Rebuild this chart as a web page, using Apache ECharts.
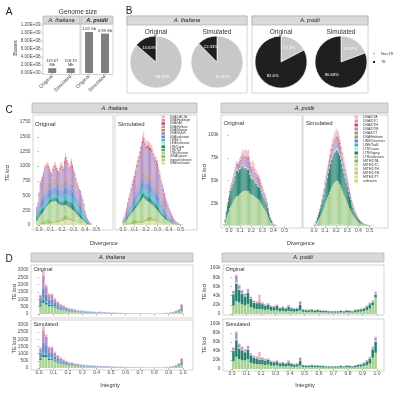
<!DOCTYPE html>
<html><head><meta charset="utf-8">
<script src="https://cdn.jsdelivr.net/npm/echarts@6/dist/echarts.min.js"></script>
<style>html,body{margin:0;padding:0;background:#fff}#c{width:400px;height:398px}</style>
</head><body><div id="c"></div>
<script>
const FONT = '"Liberation Sans", Arial, Helvetica, sans-serif';

// ---------- Panel A : genome size ----------
const genomeCats = ['Original', 'Simulated'];
const genomeThaliana = [119.67e6, 118.19e6];
const genomePsidii = [1.02e9, 0.98e9];
const genomeLabelsThaliana = ['119.67\nMb', '118.19\nMb'];
const genomeLabelsPsidii = ['1.02 Gb', '0.98 Gb'];

// ---------- Panel B : TE proportion (%) ----------
const pieNames = ['Non-TE', 'TE'];
const pieThalOrig = [86.37, 13.63];
const pieThalSim = [87.67, 12.33];
const piePsiOrig = [17.4, 82.6];
const piePsiSim = [19.32, 80.68];

// ---------- Panel C : divergence histograms (bin width 0.01) ----------
const divBins = Array.from({length: 56}, (_, i) => +(i * 0.01).toFixed(2));
const divTicks = [0.0, 0.1, 0.2, 0.3, 0.4, 0.5];

// A. thaliana original (TE loci)
const thalOrigSINE = [5,8,10,12,12,14,15,16,18,20,20,22,25,28,30,35,40,45,50,55,60,65,70,75,85,95,90,85,80,80,75,70,65,60,50,45,40,35,30,25,20,15,10,8,5,4,3,2];
const thalOrigRDNA = [5,8,10,15,20,25,35,50,70,85,80,60,40,30,25,25,25,25,25,30,35,40,50,60,75,80,70,55,40,30,25,20,18,15,12,10,8,6,5,4,3,2,2,1,1,0,0,0];
const thalOrigLTRunk = [60,79,110,133,153,171,190,204,212,225,250,288,320,337,345,345,345,330,305,275,250,230,210,195,180,170,175,180,185,180,175,170,162,150,138,125,112,99,85,71,62,48,38,26,16,11,7,3];
const thalOrigCopia = [90,100,90,80,70,60,55,50,50,50,50,50,50,50,50,55,55,60,60,60,60,60,65,70,75,80,85,90,95,100,100,95,90,85,80,70,65,60,55,50,45,40,30,25,20,15,10,5];
const thalOrigL1 = [30,35,40,45,45,50,50,55,55,55,55,55,55,60,60,60,65,65,70,70,70,75,80,80,85,90,90,90,95,100,105,105,100,100,95,90,85,80,75,70,60,50,40,30,20,15,10,5];
const thalOrigDNAunk = [40,50,70,90,100,110,120,130,130,130,125,115,105,100,110,115,120,115,110,110,115,120,115,110,120,125,120,115,105,110,115,105,95,90,85,80,75,70,70,60,55,45,35,25,18,12,8,5];
const thalOrigMuDR = [20,30,50,70,80,90,100,110,115,120,115,105,95,90,100,110,115,110,100,100,110,115,110,105,115,120,115,110,100,105,110,100,90,85,80,75,70,65,60,55,50,40,30,22,15,10,6,3];
const thalOrigMariner = [5,8,10,15,18,20,22,25,25,25,25,25,25,25,25,25,25,25,25,25,25,25,25,25,25,25,25,25,22,22,20,18,15,12,10,10,8,8,6,5,4,3,2,2,1,1,0,0];
const thalOrigHelitron = [35,50,140,230,242,253,283,315,305,292,257,210,155,120,177,205,205,172,150,145,222,265,245,202,295,345,308,275,225,248,328,292,262,248,220,185,177,161,171,143,129,104,54,22,12,12,8,5];
const thalOrighAT = [10,12,15,20,20,22,25,25,25,28,28,25,25,25,28,30,30,28,25,25,28,30,30,28,30,35,32,30,28,30,32,30,28,25,22,20,18,16,15,12,10,8,6,4,3,2,1,1];
const thalOrigCACTA = [10,15,20,25,30,30,35,35,40,40,40,35,35,35,40,40,45,40,40,35,40,45,45,40,45,50,45,45,40,40,45,40,35,30,28,25,22,20,18,15,12,10,8,5,4,3,2,1];

// A. thaliana simulated (TE loci)
const thalSimSINE = [3,4,5,6,8,10,12,14,16,18,20,22,25,28,32,36,40,45,50,55,60,65,70,72,75,75,72,70,65,60,55,50,45,40,35,30,25,22,18,15,12,10,8,6,5,4,3,2,2,1,1,0,0];
const thalSimRDNA = [2,3,5,8,12,18,25,35,50,65,75,70,55,40,30,28,28,30,35,40,45,55,65,70,72,65,55,45,35,28,22,18,15,12,10,8,6,5,4,3,2,2,1,1,1,0,0,0,0,0,0,0,0];
const thalSimLTRunk = [25,38,55,76,95,112,128,141,149,157,170,198,235,272,308,336,362,385,385,345,315,290,265,243,223,210,203,195,190,182,173,157,140,123,110,97,84,73,63,54,46,38,31,25,19,14,11,8,5,4,2,2,1];
const thalSimCopia = [15,20,25,30,35,40,42,45,48,50,52,55,58,60,62,65,68,70,72,70,70,72,75,78,80,80,80,78,75,72,70,65,60,55,50,45,40,35,30,26,22,18,15,12,10,8,6,5,4,3,2,1,1];
const thalSimL1 = [10,12,15,20,25,30,35,40,45,50,55,60,65,70,75,80,85,90,95,90,90,95,100,100,100,100,95,90,85,80,75,70,62,55,50,45,40,35,30,25,20,17,14,11,9,7,5,4,3,2,1,1,0];
const thalSimDNAunk = [10,15,20,28,35,42,50,58,65,72,78,85,92,100,105,110,118,125,130,122,118,120,120,118,118,115,110,105,100,96,92,84,75,66,60,54,46,40,35,30,25,21,17,13,10,8,6,4,3,2,1,1,1];
const thalSimMuDR = [8,12,18,24,30,38,45,52,60,66,72,80,88,95,100,108,115,122,128,120,115,118,116,114,113,110,104,100,95,93,88,80,72,64,58,52,45,38,34,29,24,20,16,13,10,7,6,4,3,2,1,1,0];
const thalSimMariner = [2,3,5,7,9,11,13,15,17,19,20,22,24,26,28,30,32,34,35,33,32,32,32,31,31,30,29,27,26,25,24,22,20,18,16,14,12,10,9,8,6,5,4,3,3,2,2,1,1,1,0,0,0];
const thalSimHelitron = [12,26,48,71,104,134,158,190,222,248,266,298,340,374,398,419,445,483,508,472,448,464,458,448,454,454,427,410,404,412,404,366,332,297,268,248,213,180,160,138,117,97,77,62,42,32,25,17,11,7,5,3,1];
const thalSimhAT = [5,7,10,12,15,18,20,23,26,28,30,33,36,38,40,42,45,48,50,47,45,46,46,45,44,43,41,39,37,36,34,31,28,25,22,20,17,15,13,11,9,8,6,5,4,3,2,2,1,1,1,0,0];
const thalSimCACTA = [8,10,14,18,22,27,32,37,42,47,52,57,62,67,72,76,82,88,92,86,82,83,83,81,80,78,74,71,68,66,63,57,51,45,41,37,32,27,24,21,17,14,11,9,7,5,4,3,2,2,1,1,1];

// A. psidii original (thousand TE loci)
const psiOrigMITEDTT = [0.1,0.2,0.3,0.4,0.5,0.6,0.7,0.8,0.9,1,1,1.1,1.1,1.2,1.2,1.3,1.3,1.4,1.4,1.4,1.5,1.5,1.5,1.4,1.4,1.3,1.3,1.2,1.2,1.1,1.1,1,1,0.9,0.8,0.7,0.6,0.5,0.5,0.4,0.3,0.2,0.2,0.1,0.1,0,0,0];
const psiOrigLTRunk = [1,4,8,12,15,19,21,23,26,28,30,32,32,32,34,35,36,37,37,37,38,37,37,35,34,33,33,32,31,30,29,28,27,25,23,21,19,17,15,12,9,6,4,3,1.5,1,0.6,0.3];
const psiOrigGypsy = [0.8,3,7,10,12,15,17,18,19,21,24,28,28,26,27,27,28,28,25,25,24,23,23,20,18,17,18,17,15,15,14,14,14,13,12,11,10,10,9,8,6,4,3,2.5,1.2,0.7,0.4,0.2];
const psiOrigCopia = [0.1,0.3,0.5,0.7,0.8,1,1,1.1,1.2,1.2,1.3,1.3,1.3,1.3,1.4,1.4,1.5,1.5,1.5,1.5,1.5,1.5,1.5,1.4,1.4,1.3,1.3,1.3,1.2,1.2,1.1,1.1,1,1,0.9,0.8,0.7,0.7,0.6,0.5,0.4,0.3,0.2,0.2,0.1,0.1,0,0];
const psiOrigDTM = [0.1,0.4,1,1.5,2,2.5,3,3.5,4,4.5,5,5,5,5.5,6,7,8,9,9.5,10,10.5,10.5,11,10,9,9,10,9.5,8.5,8,7.5,7,7,6.5,6,5.5,5,4.5,4,3.5,2.8,2,1.5,1.2,0.6,0.4,0.3,0.1];
const psiOrigDTH = [0,0.1,0.2,0.3,0.4,0.5,0.6,0.7,0.8,0.9,1,1.1,1.1,1.1,1.2,1.2,1.3,1.4,1.4,1.4,1.5,1.5,1.5,1.4,1.3,1.3,1.4,1.4,1.3,1.3,1.3,1.3,1.3,1.2,1.2,1.1,1,1,0.9,0.8,0.6,0.4,0.3,0.2,0.1,0.1,0,0];
const psiOrigDTA = [0,0.2,0.4,0.6,0.8,1.2,1.4,1.6,2,2.2,2.5,2.5,2.5,2.8,3.5,4,5,6,6.5,7,7.5,7.5,8,7.5,6.5,6,7,6.5,5.5,5,4.5,4.2,4,3.6,3.2,2.8,2.4,2.2,1.8,1.4,1,0.7,0.5,0.4,0.2,0.1,0.1,0];

// A. psidii simulated (thousand TE loci)
const psiSimMITEDTT = [0.05,0.1,0.15,0.2,0.3,0.4,0.5,0.6,0.7,0.8,0.9,1,1.1,1.2,1.3,1.4,1.5,1.5,1.6,1.6,1.6,1.6,1.6,1.5,1.5,1.4,1.3,1.2,1.1,1,0.9,0.8,0.7,0.6,0.5,0.4,0.35,0.3,0.25,0.2,0.15,0.1,0.1,0.08,0.06,0.05,0.04,0.03,0.02,0.02,0.01,0.01,0,0,0];
const psiSimLTRunk = [0.5,1.5,3,5,7,9,11,14,17,20,24,27,30,33,36,39,42,44,46,47,48,48,47,45,43,40,37,34,31,28,25,22,19,17,14,12,10,8.5,7,5.5,4.5,3.5,2.8,2.2,1.8,1.4,1.1,0.9,0.7,0.5,0.4,0.3,0.2,0.15,0.1];
const psiSimGypsy = [0.3,1,2,3.5,5,6.5,8,10,12,14,17,20,22,24,26,28,29,31,32,33,34,33,32,31,29,27,25,23,21,19,17,15,13,11,9.5,8,6.5,5.5,4.5,3.5,3,2.3,1.7,1.3,1,0.8,0.6,0.5,0.4,0.3,0.2,0.15,0.1,0.08,0.05];
const psiSimCopia = [0.05,0.1,0.2,0.3,0.4,0.5,0.6,0.8,1,1.1,1.3,1.5,1.6,1.8,1.9,2,2.1,2.2,2.3,2.3,2.4,2.4,2.3,2.2,2.1,2,1.9,1.7,1.6,1.4,1.3,1.1,1,0.9,0.8,0.7,0.6,0.5,0.4,0.35,0.3,0.25,0.2,0.15,0.12,0.1,0.08,0.06,0.05,0.04,0.03,0.02,0.02,0.01,0.01];
const psiSimDTM = [0.05,0.2,0.4,0.7,1,1.3,1.7,2.2,2.7,3.3,4,4.8,5.5,6.2,7,7.8,8.6,9.3,10,10.6,11,11,10.8,10.4,9.8,9.2,8.6,7.9,7.1,6.4,5.6,4.9,4.3,3.7,3.2,2.8,2.3,1.9,1.6,1.3,1,0.8,0.6,0.5,0.4,0.3,0.25,0.2,0.15,0.12,0.09,0.07,0.05,0.04,0.03];
const psiSimDTH = [0,0.05,0.1,0.15,0.2,0.3,0.35,0.45,0.55,0.65,0.75,0.9,1,1.1,1.2,1.3,1.4,1.5,1.6,1.7,1.7,1.7,1.6,1.6,1.5,1.4,1.3,1.2,1.1,1,0.9,0.8,0.7,0.6,0.5,0.45,0.4,0.35,0.3,0.25,0.2,0.15,0.12,0.1,0.08,0.06,0.05,0.04,0.03,0.02,0.02,0.01,0.01,0,0];
const psiSimDTA = [0.05,0.15,0.3,0.5,0.7,0.9,1.2,1.5,1.9,2.3,2.8,3.3,3.8,4.3,4.8,5.4,6,6.6,7.2,7.7,8,8,7.8,7.4,7,6.5,6,5.4,4.9,4.4,3.9,3.4,2.9,2.5,2.1,1.8,1.5,1.3,1.1,0.9,0.7,0.6,0.5,0.4,0.3,0.25,0.2,0.15,0.12,0.1,0.08,0.06,0.05,0.04,0.03];

// ---------- Panel D : integrity histograms (bin width 0.02) ----------
const intBins = Array.from({length: 50}, (_, i) => +(0.01 + i * 0.02).toFixed(2));
const intTicks = [0.0, 0.1, 0.2, 0.3, 0.4, 0.5, 0.6, 0.7, 0.8, 0.9, 1.0];

const dThalOrigLTRunk = [520,760,640,520,540,430,350,290,250,200,170,150,135,115,100,95,85,80,70,65,60,65,55,50,45,40,40,38,34,32,30,28,26,26,24,22,22,20,20,18,20,22,24,28,34,45,60,85,120,220];
const dThalOrigCopia = [110,180,130,100,90,70,55,45,38,30,25,22,20,17,15,14,12,11,10,9,8,10,8,7,6,6,5,5,5,4,4,4,3,3,3,3,3,3,3,2,3,3,3,4,4,6,8,12,20,70];
const dThalOrigL1 = [60,120,90,60,60,45,35,28,24,20,17,15,13,11,10,9,8,8,7,7,6,7,6,5,5,4,4,4,3,3,3,3,3,3,2,2,2,2,2,2,2,2,2,3,3,4,6,9,14,40];
const dThalOrigDNAunk = [320,700,450,300,290,220,170,130,110,85,70,62,55,46,40,38,33,30,27,25,23,26,20,18,16,15,14,13,12,11,10,9,8,8,7,7,7,6,6,6,6,7,8,9,11,15,20,30,45,100];
const dThalOrigHelitron = [260,860,530,340,320,240,190,157,126,110,88,83,72,59,55,55,45,45,41,40,40,47,29,29,28,26,23,22,19,18,17,15,14,14,14,11,11,10,10,8,10,11,13,15,21,30,42,64,101,180];
const dThalOrigCACTA = [80,280,160,100,100,75,60,50,42,35,30,28,25,22,20,19,17,16,15,14,13,15,12,11,10,9,9,8,7,7,6,6,6,6,5,5,5,4,4,4,4,5,5,6,7,10,14,20,30,70];

const dThalSimLTRunk = [560,760,750,550,570,460,370,305,260,210,180,160,140,120,110,100,92,85,76,72,68,64,60,62,52,46,42,40,38,34,32,30,28,26,26,24,22,22,20,20,20,20,22,24,30,42,58,82,122,225];
const dThalSimCopia = [120,180,150,105,95,75,58,48,40,32,27,24,21,18,16,15,13,12,11,10,9,9,8,9,7,6,6,5,5,5,4,4,4,4,4,3,3,3,3,3,3,3,3,3,4,6,8,12,20,72];
const dThalSimL1 = [65,120,105,65,62,48,37,30,25,21,18,16,14,12,11,10,9,8,8,7,7,6,6,6,5,5,4,4,4,3,3,3,3,3,3,2,2,2,2,2,2,2,2,2,3,4,6,9,14,42];
const dThalSimDNAunk = [340,700,530,320,310,235,180,140,115,90,75,68,58,50,44,40,36,32,29,27,25,24,22,24,19,17,16,15,14,12,11,10,10,9,9,8,7,7,7,7,7,7,8,8,11,15,20,30,45,105];
const dThalSimHelitron = [280,860,625,355,358,252,193,165,136,111,89,83,71,67,58,55,52,46,40,39,37,34,32,36,26,26,23,22,21,19,18,17,14,13,13,13,11,11,9,9,9,9,10,13,15,23,34,57,99,184];
const dThalSimCACTA = [85,280,190,105,105,80,62,52,44,36,31,29,26,23,21,20,18,17,16,15,14,13,12,13,11,10,9,9,8,7,7,6,6,5,5,5,5,5,4,4,4,4,5,5,7,10,14,20,30,72];

// thousand TE loci
const dPsiOrigLTRunk = [18,28,25,21,19,22,15,12,11,11,10,9,10,7.5,7.5,8.5,6,7,5.5,7,6,5.5,6,8,5,4.5,4.5,5,4,4.5,4,3.5,3.5,3.2,3.2,3.2,3.2,3.6,3.2,4,3.5,3.2,4.5,5,5.5,6.5,9,12,19,36];
const dPsiOrigGypsy = [25,38,27.5,22.5,19.2,24.5,17.5,12.8,12.4,12.8,11.5,9.1,10.1,7.9,7.5,8.9,6.3,7.2,6,8.5,6.3,5.3,5.6,12.2,4.2,3.7,3.7,4.2,3.5,4,3.5,3.2,3.2,2.6,2.6,2.6,2.6,3.1,2.6,3.5,3.2,2.6,3.9,4.2,4.6,5.3,7.1,9.2,6.3,6.5];
const dPsiOrigCopia = [2,3,2.5,2,1.8,2,1.5,1.2,1.1,1.2,1,0.9,0.9,0.8,0.7,0.8,0.6,0.7,0.6,0.7,0.6,0.5,0.6,0.8,0.4,0.4,0.4,0.4,0.4,0.4,0.4,0.3,0.3,0.3,0.3,0.3,0.3,0.3,0.3,0.4,0.3,0.3,0.4,0.4,0.5,0.5,0.7,1,1.2,2];
const dPsiOrigDTM = [5,14,7,5,4,5,3,3,2.5,3,2.5,2,2,2,1.5,2,1.5,1.5,1.3,3,1.5,1.2,1.3,6,1,1,1,1,0.8,0.8,0.8,0.7,0.7,0.6,0.6,0.6,0.6,0.7,0.6,0.8,0.7,0.6,0.9,1,1,1.2,1.6,2,2.5,3];
const dPsiOrigDTA = [1,3,2,1.5,1,1.5,1,1,1,14,1,1,1,0.8,0.8,0.8,0.6,0.6,0.6,0.8,0.6,0.5,0.5,1,0.4,0.4,0.4,0.4,0.3,0.3,0.3,0.3,0.3,0.3,0.3,0.3,0.3,0.3,0.3,0.3,0.3,0.3,0.3,0.4,0.4,0.5,0.6,0.8,1,1.5];

const dPsiSimLTRunk = [17,27,22,20,19,22,14,12,11,11,10,9,10,7.5,7.5,8,6,6.5,5.5,7,5.5,5,5.5,7.5,4.5,4,4,4.5,4,4,3.5,3.5,3.2,3.2,3.2,3.2,3.2,3.6,3.2,4,3.5,3.2,4,5,5.5,7,9,12,25,36];
const dPsiSimGypsy = [23,37,23.5,21.5,18.2,21.5,16.5,12.8,12.4,9.8,11.5,10.1,10.1,7.9,7.5,8.4,6.3,6.7,6,7.5,5.8,4.8,5.1,10.7,3.7,3.2,3.2,3.7,3.5,3.5,3,3.2,2.5,2.6,2.6,2.6,2.6,3.1,2.6,3.5,3.2,2.6,3.4,4.2,4.6,5.8,8.1,11.2,18.5,25];
const dPsiSimCopia = [2,3,2.5,2,1.8,2,1.5,1.2,1.1,1.2,1,0.9,0.9,0.8,0.7,0.8,0.6,0.7,0.6,0.7,0.6,0.5,0.6,0.8,0.4,0.4,0.4,0.4,0.4,0.4,0.4,0.3,0.3,0.3,0.3,0.3,0.3,0.3,0.3,0.4,0.3,0.3,0.4,0.4,0.5,0.5,0.7,1,1.5,3];
const dPsiSimDTM = [5,14,7,5,4,5,3,3,2.5,3,2.5,2,2,2,1.5,2,1.5,1.5,1.3,3,1.5,1.2,1.3,6,1,1,1,1,0.8,0.8,0.8,0.7,0.7,0.6,0.6,0.6,0.6,0.7,0.6,0.8,0.7,0.6,0.9,1,1,1.2,1.6,2,3.5,5];
const dPsiSimDTA = [1,3,2,1.5,1,1.5,1,1,1,13,1,1,1,0.8,0.8,0.8,0.6,0.6,0.6,0.8,0.6,0.5,0.5,1,0.4,0.4,0.4,0.4,0.3,0.3,0.3,0.3,0.3,0.3,0.3,0.3,0.3,0.3,0.3,0.3,0.3,0.3,0.3,0.4,0.4,0.5,0.6,0.8,1.5,3];

// ---------- legends / colours ----------
const thalLegend = ['DNA/CACTA','DNA/Harbinger','DNA/hAT','DNA/Helitron','DNA/Mariner','DNA/MuDR','DNA/unknown','LINE/L1','LINE/unknown','LTR/Copia','LTR/Ty3','LTR/unknown','rDNA/spacer','repeat/unknown','SINE/unknown'];
const psiLegend = ['DNA/DTA','DNA/DTC','DNA/DTH','DNA/DTM','DNA/DTT','DNA/Helitron','LINE/Deceiver','LINE/Tad1','LTR/Copia','LTR/Gypsy','LTR/unknown','MITE/DTA','MITE/DTC','MITE/DTH','MITE/DTM','MITE/DTT','unknown'];
const TC = {'DNA/CACTA':'#f1b7c0','DNA/Harbinger':'#e48d9c','DNA/hAT':'#c84c5e','DNA/Helitron':'#b58fc4','DNA/Mariner':'#c98c3f','DNA/MuDR':'#9c8bc8','DNA/unknown':'#6689c9','LINE/L1':'#40b2ca','LINE/unknown':'#b3e1e4','LTR/Copia':'#25806e','LTR/Ty3':'#5aa85c','LTR/unknown':'#acd394','rDNA/spacer':'#8fbe45','repeat/unknown':'#cbc185','SINE/unknown':'#ded6a6'};
const PC = {'DNA/DTA':'#f1b7c0','DNA/DTC':'#e48d9c','DNA/DTH':'#c84c5e','DNA/DTM':'#b58fc4','DNA/DTT':'#c98c3f','DNA/Helitron':'#9c8bc8','LINE/Deceiver':'#6689c9','LINE/Tad1':'#40b2ca','LTR/Copia':'#b3e1e4','LTR/Gypsy':'#25806e','LTR/unknown':'#a7d091','MITE/DTA':'#86bb4c','MITE/DTC':'#c2dca2','MITE/DTH':'#cbd3a6','MITE/DTM':'#cbc185','MITE/DTT':'#ded6a6','unknown':'#e2d43e'};

// ---------- helpers ----------
const fmtE = v => { if (v === 0) return '0.00E+00'; const e = Math.floor(Math.log10(v) + 1e-9); return (v / Math.pow(10, e)).toFixed(2) + 'E+' + String(e).padStart(2, '0'); };
const LBL = {fontSize: 5, color: '#4d4d4d', fontFamily: FONT};
const YLBL = {fontSize: 4.8, color: '#4d4d4d', fontFamily: FONT};
const TICK = {show: true, length: 1.5, lineStyle: {color: '#666', width: 0.5}};
function valX(gi, min, max, ticks, labels) {
  return {gridIndex: gi, type: 'value', min, max, axisLine: {show: false}, splitLine: {show: false},
    axisTick: Object.assign({customValues: ticks}, TICK),
    axisLabel: Object.assign({show: labels, customValues: ticks, margin: 2.5, formatter: v => v.toFixed(1)}, LBL)};
}
function valY(gi, max, interval, labels, fmt, showMin) {
  return {gridIndex: gi, type: 'value', min: 0, max, interval, axisLine: {show: false}, splitLine: {show: false},
    axisTick: Object.assign({}, TICK, {show: labels}), axisLabel: Object.assign({show: labels, showMaxLabel: false, showMinLabel: showMin, margin: 2.5, formatter: fmt}, YLBL)};
}
// data stored as [count, bin] so that the count dimension is the one that stacks
function layers(gi, bins, list, colors, bw) {
  return list.map(([name, data]) => ({type: 'bar', name, xAxisIndex: gi, yAxisIndex: gi, stack: 'g' + gi, barWidth: bw,
    encode: {x: 1, y: 0}, data: data.map((v, i) => [v, bins[i]]), itemStyle: {color: colors[name]}, silent: true, animation: false}));
}
function empty(gi, names, colors) {
  return names.map(name => ({type: 'bar', name, xAxisIndex: gi, yAxisIndex: gi, data: [], itemStyle: {color: colors[name]}}));
}
function pie(cx, vals) {
  return {type: 'pie', center: [cx, 62], radius: 26, startAngle: 90, clockwise: true, silent: true, animation: false,
    data: pieNames.map((n, i) => ({name: n, value: vals[i]})), itemStyle: {borderColor: '#fff', borderWidth: 0.6},
    label: {show: true, position: 'inside', formatter: p => p.value + '%', fontSize: 4.2, color: '#fff', fontFamily: FONT}, labelLine: {show: false}};
}
function T(text, x, y, size, o = {}) {
  const a = o.align || 'center';
  return {type: 'text', x, y, rotation: o.rot || 0, z: 120, silent: true,
    style: {text, x: 0, y: 0, font: (o.style || 'normal') + ' ' + (o.weight || 'normal') + ' ' + size + 'px ' + FONT, fill: o.fill || '#1a1a1a',
      align: a, textAlign: a, verticalAlign: 'middle', textVerticalAlign: 'middle'}};
}
function R(x, y, w, h, fill, stroke, z) {
  return {type: 'rect', z: z, silent: true, shape: {x, y, width: w, height: h}, style: {fill, stroke, lineWidth: 0.6}};
}
const NOFILL = 'rgba(0,0,0,0)';

const grids = [
  [43, 24, 37, 49], [81, 24, 32, 49],
  [33, 115, 80, 110], [115, 115, 82, 110], [221, 115, 81, 111], [303, 115, 85, 111],
  [31, 265, 162, 49], [31, 320, 162, 48], [223, 265, 161, 49], [223, 320, 161, 49]
].map(([l, t, w, h]) => ({left: l, top: t, width: w, height: h}));

const catX = gi => ({gridIndex: gi, type: 'category', data: genomeCats, axisLine: {show: false},
  axisTick: {show: true, length: 1.5, alignWithLabel: true, lineStyle: {color: '#666', width: 0.5}},
  axisLabel: {rotate: 45, fontSize: 5, color: '#4d4d4d', margin: 2.5, interval: 0, fontFamily: FONT}});

const xAxis = [catX(0), catX(1),
  valX(2, -0.052, 0.643, divTicks, true), valX(3, -0.070, 0.643, divTicks, true), valX(4, -0.072, 0.658, divTicks, true), valX(5, -0.099, 0.667, divTicks, true),
  valX(6, -0.056, 1.069, intTicks, false), valX(7, -0.056, 1.069, intTicks, true), valX(8, -0.062, 1.048, intTicks, false), valX(9, -0.062, 1.048, intTicks, true)];
const kFmt = v => v === 0 ? '0' : v + 'k';
const yAxis = [
  Object.assign(valY(0, 1.22e9, 2e8, true, fmtE, true), {axisLabel: Object.assign({showMaxLabel: false, margin: 2.5, formatter: fmtE}, YLBL, {fontSize: 4.6})}),
  valY(1, 1.22e9, 2e8, false, fmtE, true),
  valY(2, 1870, 250, true, v => String(v), true), valY(3, 1870, 250, false, v => String(v), true),
  valY(4, 122, 25, true, kFmt, false), valY(5, 122, 25, false, kFmt, false),
  valY(6, 3340, 500, true, v => String(v), true), valY(7, 3349, 500, true, v => String(v), true),
  valY(8, 106.5, 20, true, kFmt, true), valY(9, 108.9, 20, true, kFmt, true)];

const genomeBar = (gi, vals, labels) => ({type: 'bar', xAxisIndex: gi, yAxisIndex: gi, barWidth: 8, silent: true, animation: false,
  data: vals, itemStyle: {color: '#7f7f7f'},
  label: {show: true, position: 'top', distance: 1, fontSize: 4, lineHeight: 4.4, color: '#333', fontFamily: FONT, formatter: p => labels[p.dataIndex]}});

const series = [
  genomeBar(0, genomeThaliana, genomeLabelsThaliana), genomeBar(1, genomePsidii, genomeLabelsPsidii),
  pie(156, pieThalOrig), pie(217, pieThalSim), pie(281, piePsiOrig), pie(341, piePsiSim),
  ...layers(2, divBins, [['SINE/unknown', thalOrigSINE], ['rDNA/spacer', thalOrigRDNA], ['LTR/unknown', thalOrigLTRunk], ['LTR/Copia', thalOrigCopia], ['LINE/L1', thalOrigL1], ['DNA/unknown', thalOrigDNAunk], ['DNA/MuDR', thalOrigMuDR], ['DNA/Mariner', thalOrigMariner], ['DNA/Helitron', thalOrigHelitron], ['DNA/hAT', thalOrighAT], ['DNA/CACTA', thalOrigCACTA]], TC, 1.0),
  ...layers(3, divBins, [['SINE/unknown', thalSimSINE], ['rDNA/spacer', thalSimRDNA], ['LTR/unknown', thalSimLTRunk], ['LTR/Copia', thalSimCopia], ['LINE/L1', thalSimL1], ['DNA/unknown', thalSimDNAunk], ['DNA/MuDR', thalSimMuDR], ['DNA/Mariner', thalSimMariner], ['DNA/Helitron', thalSimHelitron], ['DNA/hAT', thalSimhAT], ['DNA/CACTA', thalSimCACTA]], TC, 1.0),
  ...layers(4, divBins, [['MITE/DTT', psiOrigMITEDTT], ['LTR/unknown', psiOrigLTRunk], ['LTR/Gypsy', psiOrigGypsy], ['LTR/Copia', psiOrigCopia], ['DNA/DTM', psiOrigDTM], ['DNA/DTH', psiOrigDTH], ['DNA/DTA', psiOrigDTA]], PC, 1.0),
  ...layers(5, divBins, [['MITE/DTT', psiSimMITEDTT], ['LTR/unknown', psiSimLTRunk], ['LTR/Gypsy', psiSimGypsy], ['LTR/Copia', psiSimCopia], ['DNA/DTM', psiSimDTM], ['DNA/DTH', psiSimDTH], ['DNA/DTA', psiSimDTA]], PC, 1.0),
  ...layers(6, intBins, [['LTR/unknown', dThalOrigLTRunk], ['LTR/Copia', dThalOrigCopia], ['LINE/L1', dThalOrigL1], ['DNA/unknown', dThalOrigDNAunk], ['DNA/Helitron', dThalOrigHelitron], ['DNA/CACTA', dThalOrigCACTA]], TC, 2.5),
  ...layers(7, intBins, [['LTR/unknown', dThalSimLTRunk], ['LTR/Copia', dThalSimCopia], ['LINE/L1', dThalSimL1], ['DNA/unknown', dThalSimDNAunk], ['DNA/Helitron', dThalSimHelitron], ['DNA/CACTA', dThalSimCACTA]], TC, 2.5),
  ...layers(8, intBins, [['LTR/unknown', dPsiOrigLTRunk], ['LTR/Gypsy', dPsiOrigGypsy], ['LTR/Copia', dPsiOrigCopia], ['DNA/DTM', dPsiOrigDTM], ['DNA/DTA', dPsiOrigDTA]], PC, 2.5),
  ...layers(9, intBins, [['LTR/unknown', dPsiSimLTRunk], ['LTR/Gypsy', dPsiSimGypsy], ['LTR/Copia', dPsiSimCopia], ['DNA/DTM', dPsiSimDTM], ['DNA/DTA', dPsiSimDTA]], PC, 2.5),
  ...empty(2, ['DNA/Harbinger', 'LINE/unknown', 'LTR/Ty3', 'repeat/unknown'], TC),
  ...empty(4, ['DNA/DTC', 'DNA/DTT', 'LINE/Deceiver', 'LINE/Tad1', 'MITE/DTA', 'MITE/DTC', 'MITE/DTH', 'MITE/DTM', 'unknown'], PC)
];

const legendBase = {orient: 'vertical', icon: 'rect', padding: 0, selectedMode: false};
const legend = [
  Object.assign({}, legendBase, {data: pieNames, left: 371, top: 50.5, itemWidth: 4, itemHeight: 4, itemGap: 2.5, textStyle: {fontSize: 3.6, color: '#333', fontFamily: FONT}}),
  Object.assign({}, legendBase, {data: thalLegend.map(n => ({name: n, itemStyle: {color: TC[n]}})), left: 161.5, top: 115.5, itemWidth: 3.5, itemHeight: 2.6, itemGap: 0.3, textStyle: {fontSize: 3, lineHeight: 3, color: '#333', fontFamily: FONT}}),
  Object.assign({}, legendBase, {data: psiLegend.map(n => ({name: n, itemStyle: {color: PC[n]}})), left: 354.5, top: 115.3, itemWidth: 3.5, itemHeight: 3, itemGap: 0.6, textStyle: {fontSize: 3.4, lineHeight: 3.4, color: '#333', fontFamily: FONT}})
];

const FR = '#b8b8b8', ST = '#a6a6a6', SF = '#d9d9d9';
const graphic = [
  R(43, 24, 37, 50.5, NOFILL, FR, 110), R(81, 24, 32, 50.5, NOFILL, FR, 110),
  R(127, 16, 120, 77, NOFILL, FR, 110), R(252, 16, 116, 77, NOFILL, FR, 110),
  R(33, 115, 80, 115, NOFILL, FR, 110), R(115, 115, 82, 115, NOFILL, FR, 110),
  R(221, 115, 81, 113, NOFILL, FR, 110), R(303, 115, 85, 113, NOFILL, FR, 110),
  R(31, 265, 162, 53, NOFILL, FR, 110), R(31, 320, 162, 50, NOFILL, FR, 110),
  R(223, 265, 161, 50, NOFILL, FR, 110), R(223, 319, 161, 52, NOFILL, FR, 110),
  R(43, 16, 37, 8, SF, ST, 111), R(81, 16, 32, 8, SF, ST, 111),
  R(127, 16, 120, 9, SF, ST, 111), R(252, 16, 116, 9, SF, ST, 111),
  R(32, 103, 165, 10, SF, ST, 111), R(221, 103, 167, 10, SF, ST, 111),
  R(31, 253, 162, 9, SF, ST, 111), R(222, 253, 162, 9, SF, ST, 111),
  T('A', 9, 12, 10), T('B', 129, 11.5, 10), T('C', 9, 110, 10), T('D', 9, 259, 10),
  T('Genome size', 78, 12.5, 6.5, {fill: '#333'}),
  T('A. thaliana', 61.5, 20, 5.5, {style: 'italic'}), T('A. psidii', 97, 20, 5.5, {style: 'italic', weight: 'bold'}),
  T('Bases', 15, 48, 5.5, {rot: Math.PI / 2, fill: '#333'}),
  T('A. thaliana', 187, 20.5, 5.5, {style: 'italic'}), T('A. psidii', 310, 20.5, 5.5, {style: 'italic'}),
  T('Original', 156, 32, 6.5, {fill: '#333'}), T('Simulated', 217, 32, 6.5, {fill: '#333'}),
  T('Original', 281, 32, 6.5, {fill: '#333'}), T('Simulated', 341, 32, 6.5, {fill: '#333'}),
  T('A. thaliana', 114.5, 108, 5.5, {style: 'italic'}), T('A. psidii', 304.5, 108, 5.5, {style: 'italic'}),
  T('Original', 35, 124, 6, {align: 'left', fill: '#333'}), T('Simulated', 118, 124, 6, {align: 'left', fill: '#333'}),
  T('Original', 223.5, 123, 6, {align: 'left', fill: '#333'}), T('Simulated', 306, 123, 6, {align: 'left', fill: '#333'}),
  T('TE loci', 7, 173, 5.5, {rot: Math.PI / 2, fill: '#333'}), T('TE loci', 204.5, 172, 5.5, {rot: Math.PI / 2, fill: '#333'}),
  T('Divergence', 104, 243, 5.5, {fill: '#333'}), T('Divergence', 301, 243, 5.5, {fill: '#333'}),
  T('A. thaliana', 112, 257.5, 5.5, {style: 'italic'}), T('A. psidii', 303, 257.5, 5.5, {style: 'italic'}),
  T('Original', 33.5, 269.5, 5.5, {align: 'left', fill: '#333'}), T('Simulated', 33.5, 324.5, 5.5, {align: 'left', fill: '#333'}),
  T('Original', 225.5, 269.5, 5.5, {align: 'left', fill: '#333'}), T('Simulated', 225.5, 324.5, 5.5, {align: 'left', fill: '#333'}),
  T('TE loci', 14.5, 292, 5.5, {rot: Math.PI / 2, fill: '#333'}), T('TE loci', 14.5, 345, 5.5, {rot: Math.PI / 2, fill: '#333'}),
  T('TE loci', 204, 292, 5.5, {rot: Math.PI / 2, fill: '#333'}), T('TE loci', 204, 345, 5.5, {rot: Math.PI / 2, fill: '#333'}),
  T('Integrity', 110, 385, 5.5, {fill: '#333'}), T('Integrity', 305, 385, 5.5, {fill: '#333'})
];

const chart = echarts.init(document.getElementById('c'), null, {renderer: 'canvas'});
chart.setOption({
  animation: false,
  backgroundColor: '#fff',
  textStyle: {fontFamily: FONT},
  color: ['#c8c8c8', '#1f1f1f'],
  grid: grids, xAxis, yAxis, series, legend, graphic
});
</script></body></html>
